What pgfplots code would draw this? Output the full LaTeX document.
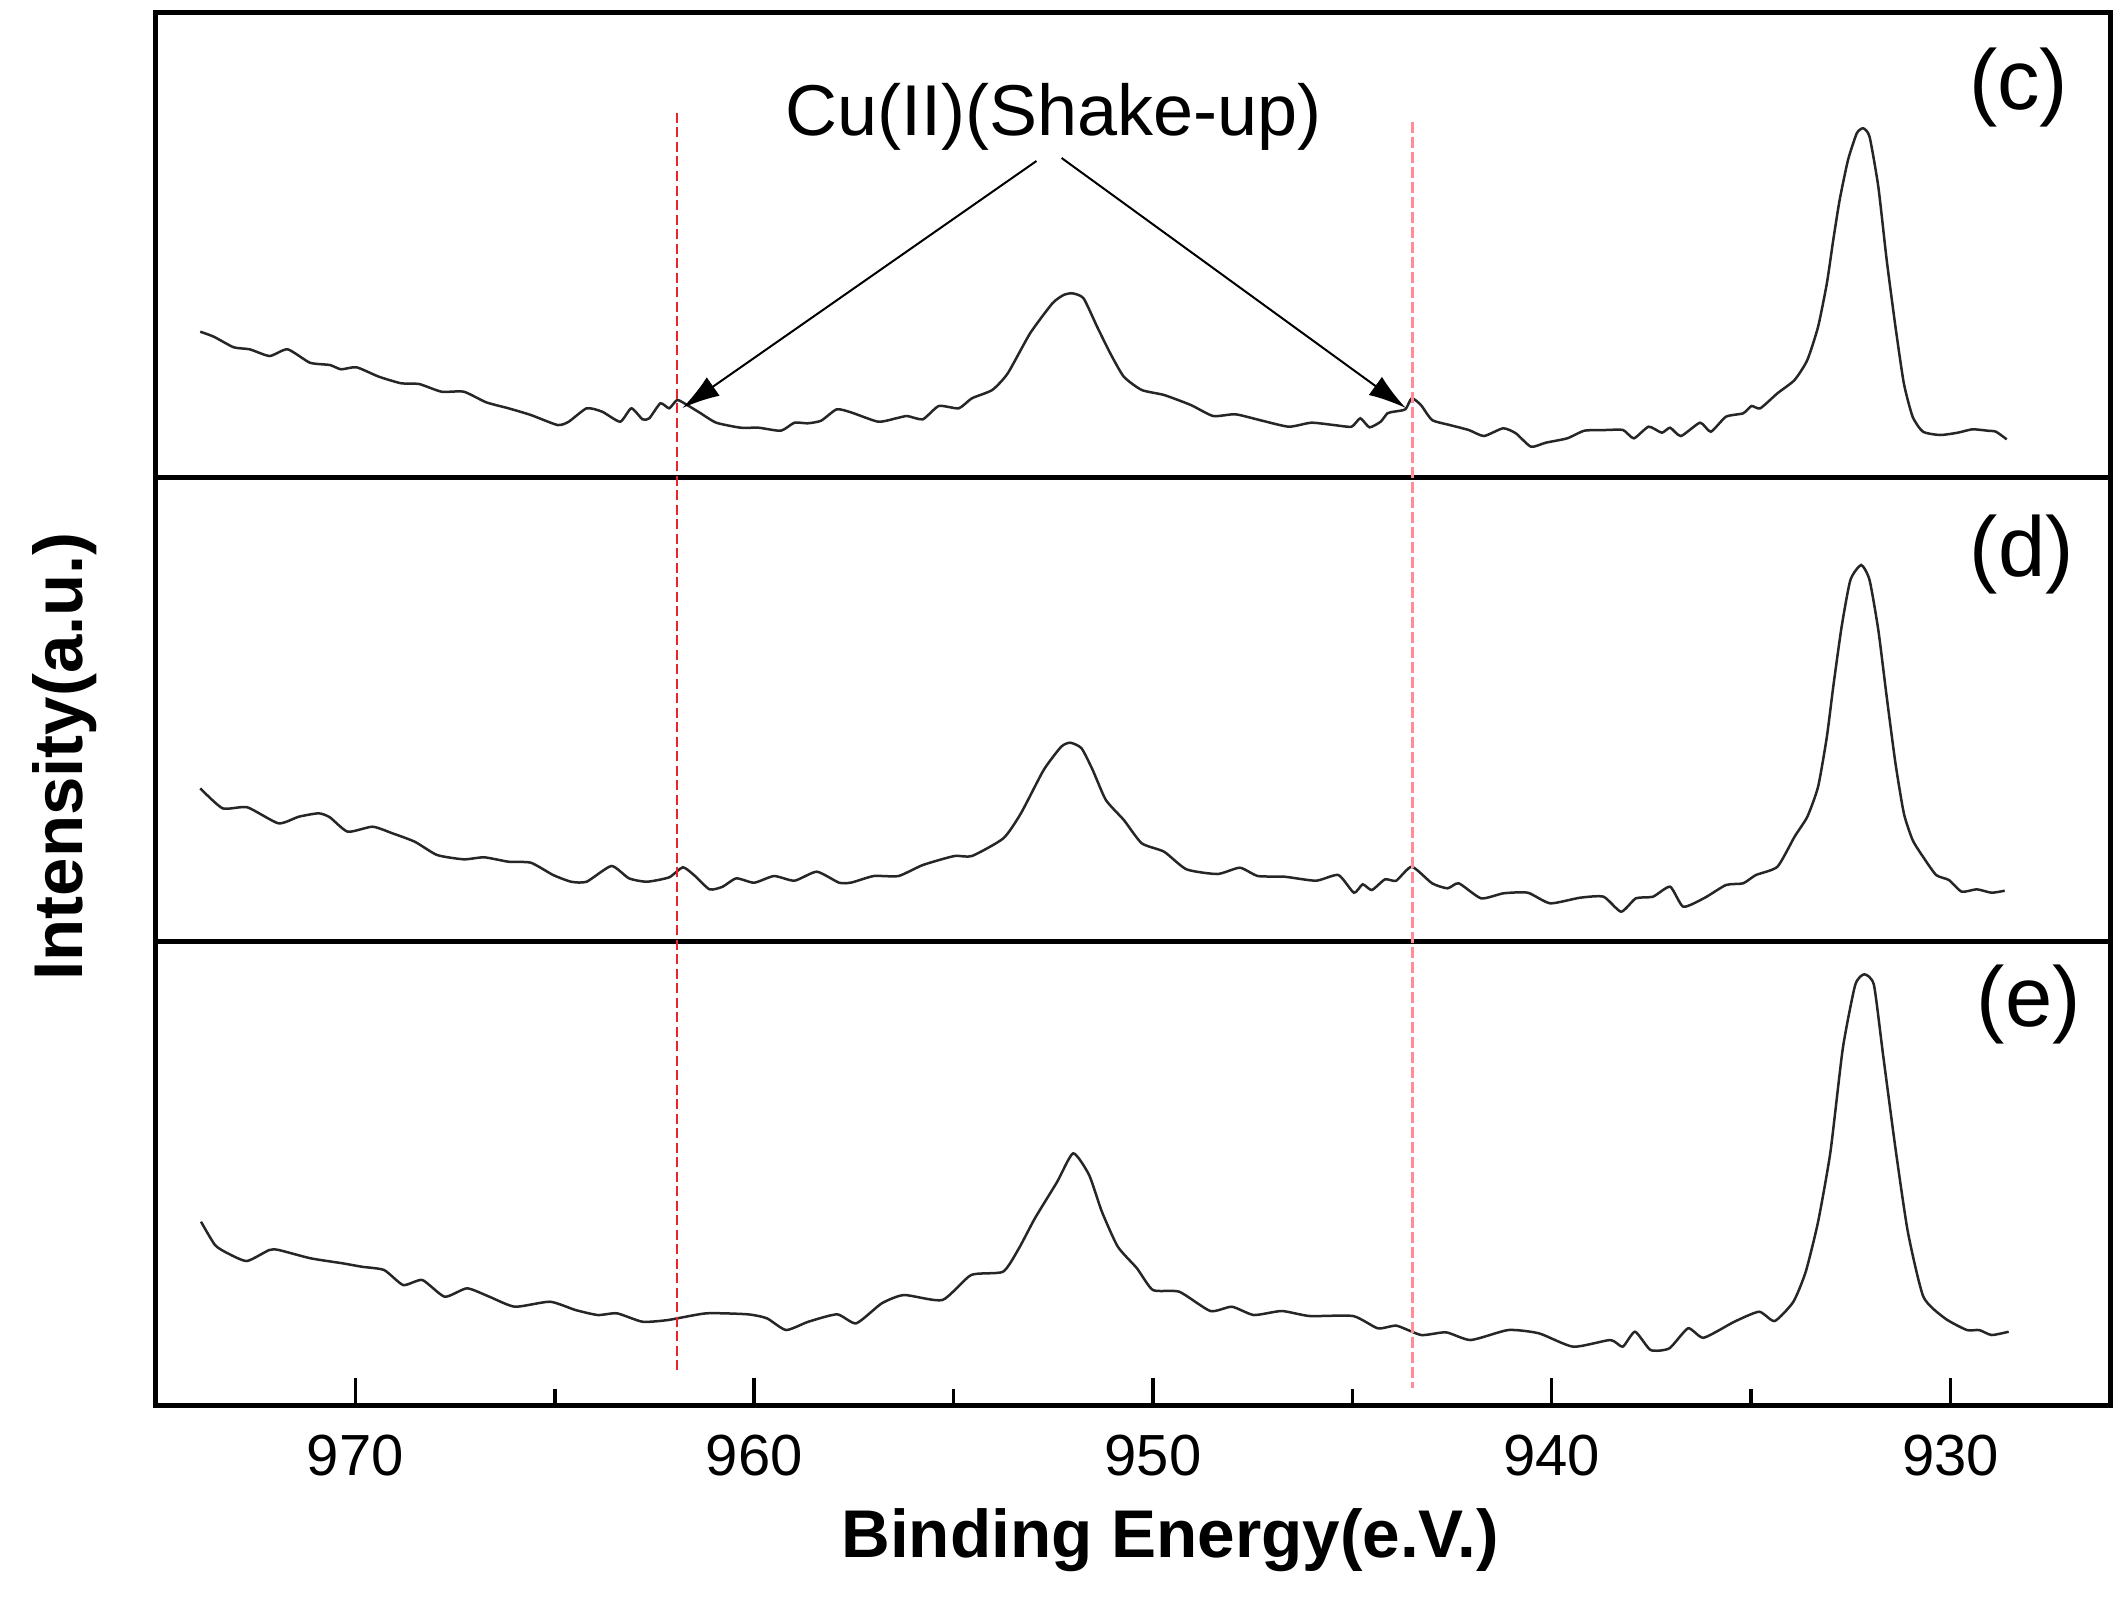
\documentclass[border=0pt]{standalone}
\usepackage{fontspec}
\setmainfont{Liberation Sans}
\usepackage{pgfplots}
\pgfplotsset{compat=1.18}
\usepackage{pgfplotstable}
\usetikzlibrary{arrows.meta}
\definecolor{redline}{RGB}{235,35,45}
\definecolor{pinkline}{RGB}{255,140,150}

\pgfplotstableread{
x y
973.89 1073.3
973.55 1068.3
973.05 1057.7
972.65 1055.7
972.15 1049.0
971.70 1055.7
971.14 1042.3
970.64 1040.0
970.36 1035.7
969.97 1037.7
969.41 1028.3
968.85 1021.7
968.40 1021.0
967.84 1013.3
967.28 1013.3
966.72 1002.7
966.16 996.7
965.60 990.0
964.93 980.0
964.65 983.3
964.20 996.7
963.81 993.3
963.36 983.3
963.08 996.7
962.80 985.7
962.63 986.7
962.35 1001.7
962.13 996.7
961.93 1005.0
961.68 1000.0
961.34 991.7
960.95 982.3
960.34 977.3
959.89 977.3
959.33 974.3
958.99 982.3
958.66 981.7
958.32 984.3
957.93 995.7
957.56 992.5
956.89 983.3
956.44 986.7
956.16 989.0
955.77 985.7
955.37 999.0
954.87 996.7
954.54 1006.7
954.03 1015.0
953.64 1031.7
953.08 1071.7
952.52 1101.7
952.24 1110.0
952.02 1111.7
951.74 1106.7
951.40 1078.3
951.07 1051.7
950.73 1028.3
950.28 1015.0
949.72 1010.0
949.05 1000.0
948.49 989.0
947.93 990.7
947.26 984.3
946.59 978.3
946.03 982.3
945.47 980.0
945.02 978.3
944.80 986.7
944.57 977.7
944.29 983.3
944.12 991.7
943.96 993.3
943.67 995.7
943.51 1006.7
943.28 1000.0
943.00 985.0
942.56 980.0
942.08 975.0
941.70 969.0
941.22 976.7
940.90 971.7
940.52 958.3
940.15 962.3
939.61 966.7
939.18 974.3
938.64 975.0
938.21 975.0
937.94 966.7
937.57 978.3
937.24 972.3
937.03 977.3
936.76 969.0
936.28 982.3
936.01 973.3
935.63 988.3
935.20 991.7
934.99 999.0
934.77 996.7
934.34 1011.7
933.91 1025.0
933.59 1045.0
933.32 1078.3
933.10 1121.7
932.94 1165.0
932.78 1205.0
932.57 1245.0
932.35 1271.7
932.19 1276.7
932.03 1268.3
931.81 1218.3
931.60 1145.0
931.38 1078.3
931.17 1021.7
930.95 988.3
930.69 973.3
930.26 970.0
929.82 972.3
929.45 975.7
929.07 974.3
928.86 973.3
928.59 965.7
}\datac

\pgfplotstableread{
x y
973.89 616.7
973.33 596.7
972.71 597.7
971.93 581.7
971.42 588.3
970.92 591.7
970.64 587.7
970.19 573.3
969.57 578.3
969.07 571.7
968.51 563.3
967.95 550.0
967.28 545.7
966.77 547.7
966.16 543.3
965.60 542.3
965.04 530.0
964.59 523.3
964.20 523.3
963.58 539.0
963.14 526.7
962.69 523.3
962.13 527.7
961.79 537.7
961.51 530.0
961.12 515.7
960.79 518.3
960.45 526.7
960.00 522.3
959.50 529.0
958.99 524.3
958.43 533.3
957.87 522.3
957.56 522.5
957.00 529.0
956.38 529.0
955.77 540.0
954.98 549.0
954.54 549.0
953.75 566.7
953.31 591.7
952.74 635.0
952.30 658.3
952.07 662.3
951.79 656.7
951.51 635.0
951.18 605.0
950.73 585.0
950.28 561.7
949.72 553.3
949.16 535.7
948.38 531.0
947.82 537.3
947.37 529.0
946.70 528.3
945.91 524.3
945.35 530.0
944.96 512.3
944.74 520.7
944.51 515.0
944.18 525.7
943.90 524.3
943.51 538.3
943.00 521.7
942.61 516.7
942.33 521.7
941.77 506.7
941.21 511.7
940.60 512.3
940.04 501.7
939.29 507.3
938.70 508.3
938.26 493.3
937.89 506.7
937.46 508.3
937.03 518.3
936.70 498.3
936.16 507.3
935.63 520.0
935.20 521.7
934.88 530.0
934.34 538.3
933.91 568.3
933.59 588.3
933.32 618.3
933.10 668.3
932.94 718.3
932.73 778.3
932.51 825.0
932.24 840.0
932.03 825.0
931.81 775.0
931.60 708.3
931.38 641.7
931.17 591.7
930.95 565.0
930.69 548.3
930.36 530.0
930.04 525.0
929.72 513.3
929.34 515.7
928.97 512.3
928.64 514.3
}\datad

\pgfplotstableread{
x y
973.87 183.3
973.52 160.0
973.20 151.7
972.72 144.0
972.16 155.0
971.92 155.0
971.12 146.7
970.32 141.7
969.84 138.3
969.28 135.0
968.80 120.0
968.32 125.0
967.76 108.3
967.20 116.7
966.64 108.3
966.00 98.3
965.12 103.3
964.48 95.0
963.92 90.0
963.44 91.7
962.80 83.3
962.16 85.0
961.20 91.7
960.16 90.7
959.68 86.7
959.20 75.0
958.64 83.3
957.92 90.7
957.44 81.7
956.80 101.7
956.24 110.0
955.28 105.0
954.56 130.0
953.76 133.3
953.36 156.7
952.96 186.7
952.40 223.3
952.00 251.7
951.60 230.0
951.28 193.3
950.88 158.3
950.40 136.7
950.00 115.0
949.34 113.3
948.56 94.0
948.02 98.3
947.47 90.0
946.77 94.0
946.07 89.0
944.98 89.0
944.36 76.7
943.89 79.3
943.27 70.0
942.65 72.7
942.03 65.0
941.09 75.0
940.32 71.7
939.46 58.3
938.53 65.0
938.22 58.3
937.91 73.3
937.52 55.0
937.05 56.7
936.58 76.7
936.19 67.3
935.42 83.3
934.80 93.3
934.41 84.0
933.94 103.3
933.63 133.3
933.32 183.3
933.01 253.3
932.70 356.7
932.39 420.0
932.16 430.7
931.92 420.0
931.69 350.0
931.38 256.7
931.07 173.3
930.68 108.3
930.14 86.7
929.59 75.0
929.28 75.0
928.97 70.0
928.54 73.3
}\datae

\begin{document}
\begin{tikzpicture}
\useasboundingbox (0,0) rectangle (424.4pt,319.2pt);
\begin{axis}[
  at={(31.2pt,38.2pt)}, anchor=south west,
  scale only axis, width=390.8pt, height=278.4pt,
  xmin=926, xmax=975, x dir=reverse,
  ymin=0, ymax=1392,
  xtick={930,940,950,960,970},
  minor xtick={935,945,955,965},
  ytick=\empty,
  xtick pos=bottom, tick align=inside,
  major tick length=5.4pt, minor tick length=3.2pt,
  every tick/.style={black, line width=0.7pt},
  axis line style={line width=1pt},
  /pgf/number format/assume math mode=true,
  xticklabel style={font=\fontsize{11.6}{13}\selectfont, yshift=-2.5pt},
  xlabel={Binding Energy(e.V.)},
  xlabel style={at={(axis description cs:0.519,-0.1092)}, anchor=base,
    font=\bfseries\fontsize{13.5}{15}\selectfont},
  ylabel={Intensity(a.u.)},
  ylabel style={at={(axis description cs:-0.03736,0.466)}, anchor=base,
    font=\bfseries\fontsize{13.8}{15}\selectfont},
  clip=false,
]
\draw[line width=1pt] (axis cs:975,464) -- (axis cs:926,464);
\draw[line width=1pt] (axis cs:975,928) -- (axis cs:926,928);

\addplot[black!85, line width=0.5pt, no markers, smooth, tension=0.35] table[x=x,y=y] {\datac};
\addplot[black!85, line width=0.5pt, no markers, smooth, tension=0.35] table[x=x,y=y] {\datad};
\addplot[black!85, line width=0.5pt, no markers, smooth, tension=0.35] table[x=x,y=y] {\datae};

\draw[redline, line width=0.45pt, dash pattern=on 2pt off 0.9pt] (axis cs:961.93,1292) -- (axis cs:961.93,33);
\draw[pinkline, line width=0.65pt, dash pattern=on 2.2pt off 0.8pt] (axis cs:943.5,1283) -- (axis cs:943.5,17);

\draw[line width=0.4pt, -{Latex[length=7.5pt,width=4.5pt]}] (axis cs:952.92,1244) -- (axis cs:961.80,997);
\draw[line width=0.4pt, -{Latex[length=7.5pt,width=4.5pt]}] (axis cs:952.29,1247) -- (axis cs:943.66,997);

\node[anchor=base, font=\fontsize{14.4}{16}\selectfont] at (axis cs:952.49,1270) {Cu(II)(Shake-up)};

\node[font=\fontsize{17}{19}\selectfont] at (axis cs:928.29,1317) {(c)};
\node[font=\fontsize{17}{19}\selectfont] at (axis cs:928.21,851) {(d)};
\node[font=\fontsize{17}{19}\selectfont] at (axis cs:928.04,401) {(e)};
\end{axis}
\end{tikzpicture}
\end{document}
